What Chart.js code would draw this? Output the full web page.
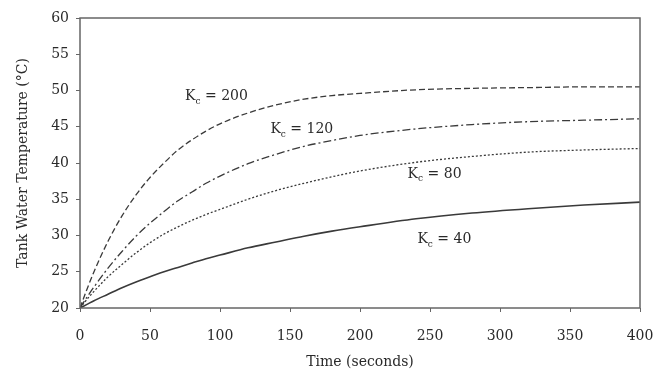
<!DOCTYPE html>
<html>
<head>
<meta charset="utf-8">
<script src="https://cdn.jsdelivr.net/npm/chart.js@4"></script>
<style>
  html, body { margin: 0; padding: 0; background: #fff; }
  #wrap { width: 662px; height: 373px; }
</style>
</head>
<body>
<div id="wrap"><canvas id="c" width="662" height="373"></canvas></div>
<script>
const times = [0, 5, 10, 20, 30, 40, 50, 60, 70, 80, 90, 100, 120, 140, 160, 180, 200, 240, 280, 320, 360, 400];
const kc200 = [20, 22.6, 25.0, 29.2, 32.7, 35.6, 38.0, 40.0, 41.8, 43.2, 44.4, 45.4, 46.9, 48.0, 48.8, 49.3, 49.6, 50.1, 50.3, 50.4, 50.5, 50.5];
const kc120 = [20, 21.5, 22.9, 25.5, 27.8, 29.9, 31.7, 33.3, 34.8, 36.0, 37.2, 38.2, 39.9, 41.2, 42.3, 43.1, 43.8, 44.7, 45.3, 45.7, 45.9, 46.1];
const kc80  = [20, 21.2, 22.3, 24.3, 26.0, 27.6, 29.0, 30.2, 31.2, 32.1, 32.9, 33.6, 35.0, 36.2, 37.2, 38.1, 38.9, 40.1, 40.9, 41.5, 41.8, 42.0];
const kc40  = [20, 20.5, 21.0, 21.9, 22.8, 23.6, 24.3, 25.0, 25.6, 26.2, 26.8, 27.3, 28.3, 29.1, 29.9, 30.6, 31.2, 32.3, 33.1, 33.7, 34.2, 34.6];
const seriesNames = ["200", "120", "80", "40"];
// curve labels: [gain text, time, temperature]
const curveLabels = [["200", 75, 49.2], ["120", 136, 44.6], ["80", 234, 38.5], ["40", 241, 29.4]];
const xTicks = [0, 50, 100, 150, 200, 250, 300, 350, 400];
const yTicks = [20, 25, 30, 35, 40, 45, 50, 55, 60];

const FONT = "DejaVu Serif";
const TXT = "#2a2a2a";
const toPts = arr => arr.map((v, i) => ({ x: times[i], y: v }));
const dashes = [[6, 3], [8, 3, 2, 3], [2, 2], []];
const allSeries = [kc200, kc120, kc80, kc40];

const boxPlugin = {
  id: "box",
  afterDraw(chart) {
    const { ctx, chartArea: a } = chart;
    ctx.save();
    ctx.strokeStyle = "#666";
    ctx.lineWidth = 1.5;
    ctx.strokeRect(a.left, a.top, a.right - a.left, a.bottom - a.top);
    ctx.restore();
  }
};

const labelPlugin = {
  id: "curveLabels",
  afterDatasetsDraw(chart) {
    const { ctx, scales } = chart;
    ctx.save();
    ctx.fillStyle = TXT;
    ctx.textBaseline = "middle";
    ctx.textAlign = "left";
    curveLabels.forEach(([txt, t, v]) => {
      let x = scales.x.getPixelForValue(t);
      const y = scales.y.getPixelForValue(v);
      ctx.font = "14px '" + FONT + "'";
      ctx.fillText("K", x, y);
      x += ctx.measureText("K").width;
      ctx.font = "9px '" + FONT + "'";
      ctx.fillText("c", x, y + 5);
      x += ctx.measureText("c").width;
      ctx.font = "14px '" + FONT + "'";
      ctx.fillText(" = " + txt, x, y);
    });
    ctx.restore();
  }
};

new Chart(document.getElementById("c"), {
  type: "line",
  data: {
    datasets: allSeries.map((s, i) => ({
      label: "Kc = " + seriesNames[i],
      data: toPts(s),
      borderColor: "#3a3a3a",
      borderWidth: i === 3 ? 1.6 : 1.3,
      borderDash: dashes[i],
      pointRadius: 0,
      fill: false,
      cubicInterpolationMode: "monotone"
    }))
  },
  options: {
    responsive: false,
    animation: false,
    layout: { padding: { left: 0, right: 22, top: 18, bottom: 0 } },
    plugins: { legend: { display: false }, tooltip: { enabled: false } },
    scales: {
      x: {
        type: "linear",
        min: 0, max: 400,
        afterFit(s) { s.height = 65; s.paddingLeft = 0; s.paddingRight = 0; },
        afterBuildTicks(s) { s.ticks = xTicks.map(v => ({ value: v })); },
        grid: { display: true, drawOnChartArea: false, drawTicks: true, tickLength: 4, color: "#666" },
        border: { display: false },
        ticks: { color: TXT, font: { family: FONT, size: 14 }, padding: 16, maxRotation: 0 },
        title: { display: true, text: "Time (seconds)", color: TXT, font: { family: FONT, size: 14 }, padding: { top: 4, bottom: 2 } }
      },
      y: {
        type: "linear",
        min: 20, max: 60,
        afterFit(s) { s.width = 80; s.paddingTop = 0; s.paddingBottom = 0; },
        afterBuildTicks(s) { s.ticks = yTicks.map(v => ({ value: v })); },
        grid: { display: true, drawOnChartArea: false, drawTicks: true, tickLength: 4, color: "#666" },
        border: { display: false },
        ticks: { color: TXT, font: { family: FONT, size: 14 }, padding: 7 },
        title: { display: true, text: "Tank Water Temperature (°C)", color: TXT, font: { family: FONT, size: 14 }, padding: { top: 15, bottom: 0 } }
      }
    }
  },
  plugins: [boxPlugin, labelPlugin]
});
</script>
</body>
</html>
